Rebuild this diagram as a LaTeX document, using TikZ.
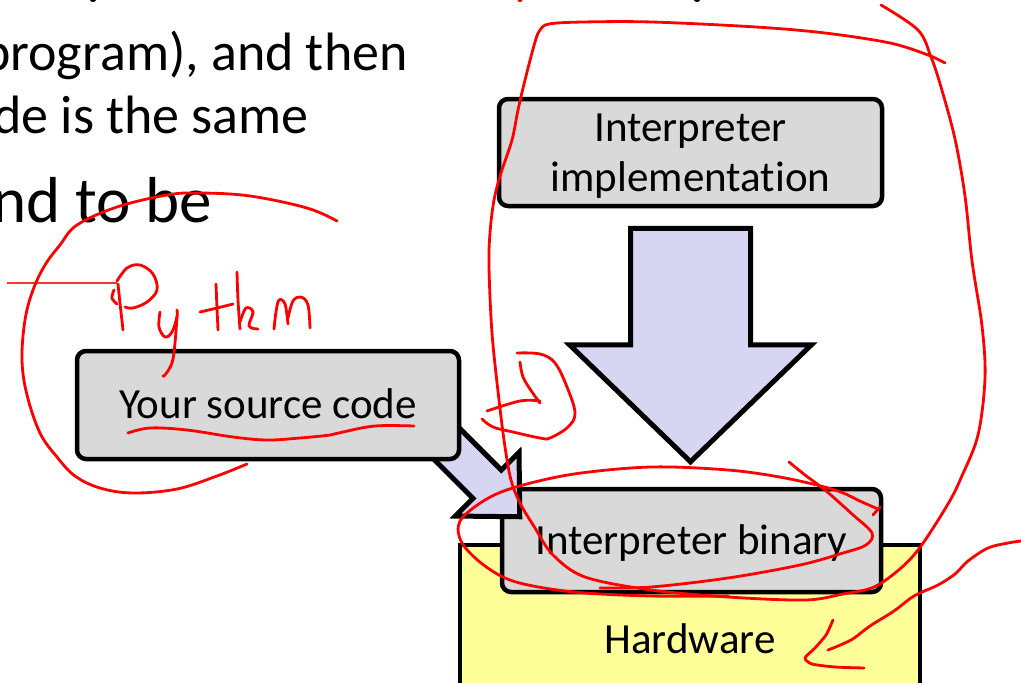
\documentclass[tikz,border=0pt]{standalone}
\usepackage{fontspec}
\setmainfont{Carlito}[Ligatures=NoCommon]
\usetikzlibrary{calc}

\definecolor{boxgray}{RGB}{217,217,217}
\definecolor{arrowfill}{RGB}{214,214,242}
\definecolor{hwyellow}{RGB}{255,255,153}
\definecolor{inkred}{RGB}{255,0,0}

% block arrow from tail #1 to tip #2: shaft half-width #3, head half-width #4, head length #5
\newcommand\blockarr[5]{%
  \coordinate (ba-base) at ($(#2)!#5!(#1)$);
  \draw[arrowshape] ($(#1)!#3!-90:(#2)$) -- ($(ba-base)!#3!-90:(#2)$)
    -- ($(ba-base)!#4!-90:(#2)$) -- (#2) -- ($(ba-base)!#4!90:(#2)$)
    -- ($(ba-base)!#3!90:(#2)$) -- ($(#1)!#3!90:(#2)$) -- cycle;}

\begin{document}
\begin{tikzpicture}[x=1pt,y=-1pt,
  graybox/.style={draw=black, line width=4.5pt, fill=boxgray, rounded corners=9pt,
    inner sep=0pt, text height=27pt, text depth=0pt,
    font=\fontsize{43}{50}\selectfont},
  hwbox/.style={draw=black, line width=4.5pt, fill=hwyellow, inner sep=0pt,
    text height=27pt, text depth=0pt, font=\fontsize{43}{50}\selectfont},
  arrowshape/.style={draw=black, line width=5pt, fill=arrowfill, line join=miter},
  slidetext/.style={anchor=base west, inner sep=0pt},
  ink/.style={draw=inkred, line width=2.8pt, line cap=round, line join=round},
  inkthin/.style={draw=inkred, line width=1.2pt, opacity=0.8}]

\useasboundingbox (0,0) rectangle (1021,683);
\clip (0,0) rectangle (1021,683);

% slide text behind the diagram
\node[slidetext, font=\fontsize{54}{64}\selectfont] (line1) at (-18,70) {program), and then};
\node[slidetext, font=\fontsize{54}{64}\selectfont] (line2) at (-7,133) {de is the same};
\node[slidetext, font=\fontsize{65}{78}\selectfont] (line3) at (-8,222) {nd to be};
% glyph tails of the line above, cut by the top edge
\fill[black] (93,0) ellipse (3pt and 2pt);
\fill[black] (697,0) ellipse (3pt and 2pt);
\fill[inkred] (520,0) ellipse (2.5pt and 2pt);

% machine stack
\node[hwbox, minimum width=460pt, minimum height=190pt] (hw) at (690,640) {Hardware};
\node[graybox, minimum width=379pt, minimum height=103pt] (bin) at (691.5,540.5) {Interpreter binary};

% source code feeding the interpreter
\coordinate (srcc) at (268,405);
\coordinate (stail) at ($(srcc)+(130,-10)$);
\coordinate (stip) at ($(bin.north west)+(20,30)$);
\blockarr{stail}{stip}{20pt}{45pt}{46pt}
\node[graybox, minimum width=382pt, minimum height=108pt] (src) at (srcc) {Your source code};

% interpreter implementation compiled to the binary
\node[graybox, minimum width=383pt, minimum height=107pt, align=center,
  text height=78pt, text depth=0pt] (impl) at (690.5,152.5) {Interpreter\\implementation};
\coordinate (dtail) at ($(impl.south)+(0,20)$);
\coordinate (dtip) at ($(bin.north)+(-1,-25)$);
\blockarr{dtail}{dtip}{60pt}{121pt}{117pt}

% ---- red pen annotations ----
% loop round the source code box
\draw[ink] plot[smooth, tension=0.6] coordinates {(337,221) (307,208) (250,196) (200,193)
  (167,195) (117,207) (77,225) (60,245) (45,265) (33,290) (25,320) (22,360) (27,395)
  (40,433) (57,457) (75,476) (100,488) (133,493) (177,489) (217,476) (247,464)};
% "Python"
\draw[inkthin] (7,283) -- (117,283);
\draw[ink] plot[smooth, tension=0.6] coordinates {(118,284) (120,303) (123,330)};
\draw[ink] plot[smooth, tension=0.6] coordinates {(117,281) (127,268) (140,265) (153,274)
  (157,290) (147,302) (133,308) (125,307)};
\draw[ink] plot[smooth, tension=0.6] coordinates {(114,290) (112,298) (117,304)};
\draw[ink] plot[smooth, tension=0.6] coordinates {(160,312) (159,327) (165,337) (172,332)
  (177,317) (177,310)};
\draw[ink] plot[smooth, tension=0.6] coordinates {(177,316) (175,343) (172,363) (165,375) (163,376)};
\draw[ink] plot[smooth, tension=0.6] coordinates {(200,312) (217,308) (233,304)};
\draw[ink] plot[smooth, tension=0.6] coordinates {(216,284) (217,308) (218,330)};
\draw[ink] plot[smooth, tension=0.6] coordinates {(237,272) (238,300) (240,329)};
\draw[ink] plot[smooth, tension=0.6] coordinates {(240,322) (246,308) (253,312) (249,326) (258,329)};
\draw[ink] plot[smooth, tension=0.6] coordinates {(274,329) (276,312) (279,300) (285,304) (288,324)};
\draw[ink] plot[smooth, tension=0.6] coordinates {(288,318) (293,301) (301,297) (308,305) (310,328)};
% underline
\draw[ink] plot[smooth, tension=0.6] coordinates {(128,433) (150,428) (187,430) (233,437)
  (267,440) (300,438) (330,435) (343,432) (375,426) (414,426)};
% scribbled arrow by the source arrow
\draw[ink] plot[smooth, tension=0.6] coordinates {(517,353) (540,354) (555,363) (567,387)
  (575,413) (568,427) (550,438) (540,438) (513,432) (493,427) (482,419)};
\draw[ink] plot[smooth, tension=0.6] coordinates {(520,362) (523,377) (532,392) (540,403)};
\draw[ink] plot[smooth, tension=0.6] coordinates {(540,401) (520,401) (487,411)};
% big loop round the interpreter
\draw[ink] plot[smooth, tension=0.55] coordinates {(945,63) (928,55) (890,43) (825,33)
  (756,27) (652,22) (583,22) (549,24) (540,30) (535,42) (525,80) (518,110) (512,140)
  (501,173) (494,200) (490,233) (489,267) (492,333) (499,400) (505,447) (511,480)
  (520,503) (535,528) (553,555) (585,577) (651,590) (728,597) (805,600) (843,594)
  (874,587) (901,568) (921,546) (948,504) (961,478) (978,435) (985,378) (982,326)
  (972,261) (965,196) (955,139) (941,87) (931,57) (918,30) (881,5)};
% ring round the binary
\draw[ink] plot[smooth, tension=0.55] coordinates {(878,509) (862,502) (835,490) (785,478)
  (728,470) (651,467) (574,474) (516,487) (485,500) (460,521) (462,543) (485,566)
  (516,582) (574,592) (651,596) (728,596)};
\draw[ink] plot[smooth, tension=0.55] coordinates {(789,462) (805,475) (825,490) (852,514)
  (872,533) (866,545) (843,553) (800,565) (728,578) (651,587) (600,588)};
\draw[ink] (873,515) -- (880,507);
% arrow to the hardware
\draw[ink] plot[smooth, tension=0.55] coordinates {(1021,541) (1008,543) (988,548) (968,561)
  (955,574) (938,585) (914,596) (894,611) (870,626) (851,640) (828,650)};
\draw[ink] plot[smooth, tension=0.4] coordinates {(833,620) (826,635) (815,648) (805,658)
  (812,664) (835,667) (864,668)};
\end{tikzpicture}
\end{document}
